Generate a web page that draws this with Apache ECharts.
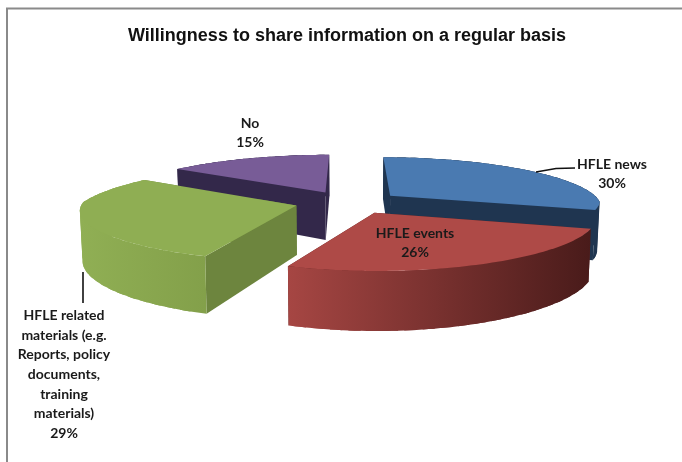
<!DOCTYPE html>
<html>
<head>
<meta charset="utf-8">
<style>html,body{margin:0;padding:0;background:#fff}#chart{width:682px;height:462px}</style>
<script src="https://cdn.jsdelivr.net/npm/echarts@6/dist/echarts.min.js"></script>
</head>
<body>
<div id="chart"></div>
<script>
// Survey shares, clockwise from twelve o'clock
const categories = ['HFLE news', 'HFLE events', 'HFLE related\nmaterials (e.g.\nReports, policy\ndocuments,\ntraining\nmaterials)', 'No'];
const shares = [30, 26, 29, 15];
const topColors = ['#4a7ab1', '#ae4a47', '#8fae53', '#785c97'];
const innerWallColors = ['#1f3550', '#5a2221', '#6d853e', '#33284a'];
const outerWallStops = [
  ['#1f3550', '#1f3550'],
  ['#a64643', '#491b1a'],
  ['#90af54', '#83a04a'],
  ['#33284a', '#33284a']
];
// Drawing order, back to front
const paintOrder = [0, 3, 2, 1];

// Projection of the exploded pie
const view = {
  cx: 348.5, cy: 202.2, horizon: -104.5,
  rx: 216, explode: 0.245,
  persBack: 0.2, persFront: 0.09, persY: 0.15,
  depth: 49, depthPers: 1, converge: 0.99
};
const sliceRadius = [0.975, 1, 0.99, 1];
const sliceShiftX = [0, 3, -1, 0];
const labelLayout = [
  { x: 612, y: 174 },
  { x: 415, y: 243 },
  { x: 64, y: 374.5 },
  { x: 250, y: 133 }
];
const leaderLines = [
  [[536, 172], [556, 168.5], [575, 168]],
  null,
  [[83, 272], [83, 303]],
  null
];

const total = shares.reduce((a, b) => a + b, 0);
const rad = d => d * Math.PI / 180;

function sliceAngles(i) {
  let sum = 0;
  for (let k = 0; k < i; k++) sum += shares[k];
  return [sum / total * 360, (sum + shares[i]) / total * 360];
}

// Screen position of a point at radius r on slice i (r = 1 rim, r = 0 apex)
function project(i, deg, r, m, lower) {
  const e = view.explode;
  const rr = r * sliceRadius[i];
  const ux = rr * Math.sin(rad(deg)) + e * Math.sin(rad(m));
  const uz = r * Math.cos(rad(deg)) + e * Math.cos(rad(m));
  const sx = 1 / (1 + (uz > 0 ? view.persBack : view.persFront) * uz);
  const sy = 1 / (1 + view.persY * uz);
  let x = view.cx + view.rx * ux * sx;
  let y = view.horizon + (view.cy - view.horizon) * sy;
  if (lower) {
    y += view.depth * (1 + (sy - 1) * view.depthPers);
    x = view.cx + (x - view.cx) * view.converge;
  }
  return [x + sliceShiftX[i], y];
}

function poly(points, fill, z) {
  return { type: 'polygon', z2: z, shape: { points }, style: { fill, stroke: null } };
}

function arc(i, from, to, m, lower) {
  const pts = [];
  const n = Math.max(1, Math.ceil((to - from) / 1.5));
  for (let k = 0; k <= n; k++) pts.push(project(i, from + (to - from) * k / n, 1, m, lower));
  return pts;
}

function renderSlice(params, api) {
  const i = api.value(0);
  const [a0, a1] = sliceAngles(i);
  const m = (a0 + a1) / 2;
  const apexT = project(i, 0, 0, m, false), apexB = project(i, 0, 0, m, true);
  const rimTop = arc(i, a0, a1, m, false), rimLow = arc(i, a0, a1, m, true);
  const cutWall = a => poly(
    [project(i, a, 1, m, false), project(i, a, 1, m, true), apexB, apexT], innerWallColors[i], 1
  );
  // The cut face nearer the viewer goes on top of the farther one
  const children = [a0, a1].sort((p, q) => Math.cos(rad(q)) - Math.cos(rad(p))).map(cutWall);
  // The curved wall is laid as overlapping panels sharing one horizontal gradient,
  // because a single outline folds over itself where the rim turns back
  const xs = rimTop.map(p => p[0]);
  const fill = new echarts.graphic.LinearGradient(Math.min(...xs), 0, Math.max(...xs), 0, [
    { offset: 0, color: outerWallStops[i][0] },
    { offset: 1, color: outerWallStops[i][1] }
  ], true);
  for (let k = 0; k < rimTop.length - 1; k += 3) {
    const top = rimTop.slice(k, k + 6), low = rimLow.slice(k, k + 6).reverse();
    children.push(poly(top.concat(low), fill, 2));
  }
  children.push(poly([apexT].concat(rimTop), topColors[i], 3));
  return { type: 'group', children };
}

// Leader lines and value labels sit above every slice
function renderLabels() {
  const children = [];
  categories.forEach((name, i) => {
    if (leaderLines[i]) {
      children.push({
        type: 'polyline', shape: { points: leaderLines[i] },
        style: { stroke: '#111', lineWidth: 1.6, fill: null }
      });
    }
    children.push({
      type: 'text', x: labelLayout[i].x, y: labelLayout[i].y,
      style: {
        text: name + '\n' + shares[i] + '%',
        font: 'bold 14px Lato, "Open Sans", sans-serif',
        fill: '#1a1a1a', align: 'center', verticalAlign: 'middle',
        lineHeight: 19.7
      }
    });
  });
  return { type: 'group', children };
}

const chart = echarts.init(document.getElementById('chart'), null, { renderer: 'canvas' });
chart.setOption({
  animation: false,
  backgroundColor: '#ffffff',
  title: {
    text: 'Willingness to share information on a regular basis',
    left: 342, top: 22, textAlign: 'center',
    textStyle: { fontFamily: '"Liberation Sans", Arial, sans-serif', fontWeight: 'bold', fontSize: 18, color: '#111' }
  },
  graphic: [
    { type: 'polyline', z: 0, shape: { points: [[7, 462], [7, 8.5], [682, 8.5]] }, style: { stroke: '#8a8a8a', lineWidth: 2, fill: null } }
  ],
  series: [
    {
      type: 'custom', coordinateSystem: 'none', silent: true,
      renderItem: renderSlice,
      data: paintOrder.map(i => [i, shares[i]])
    },
    {
      type: 'custom', coordinateSystem: 'none', silent: true, z: 3,
      renderItem: renderLabels,
      data: [[0]]
    }
  ]
});
</script>
</body>
</html>
